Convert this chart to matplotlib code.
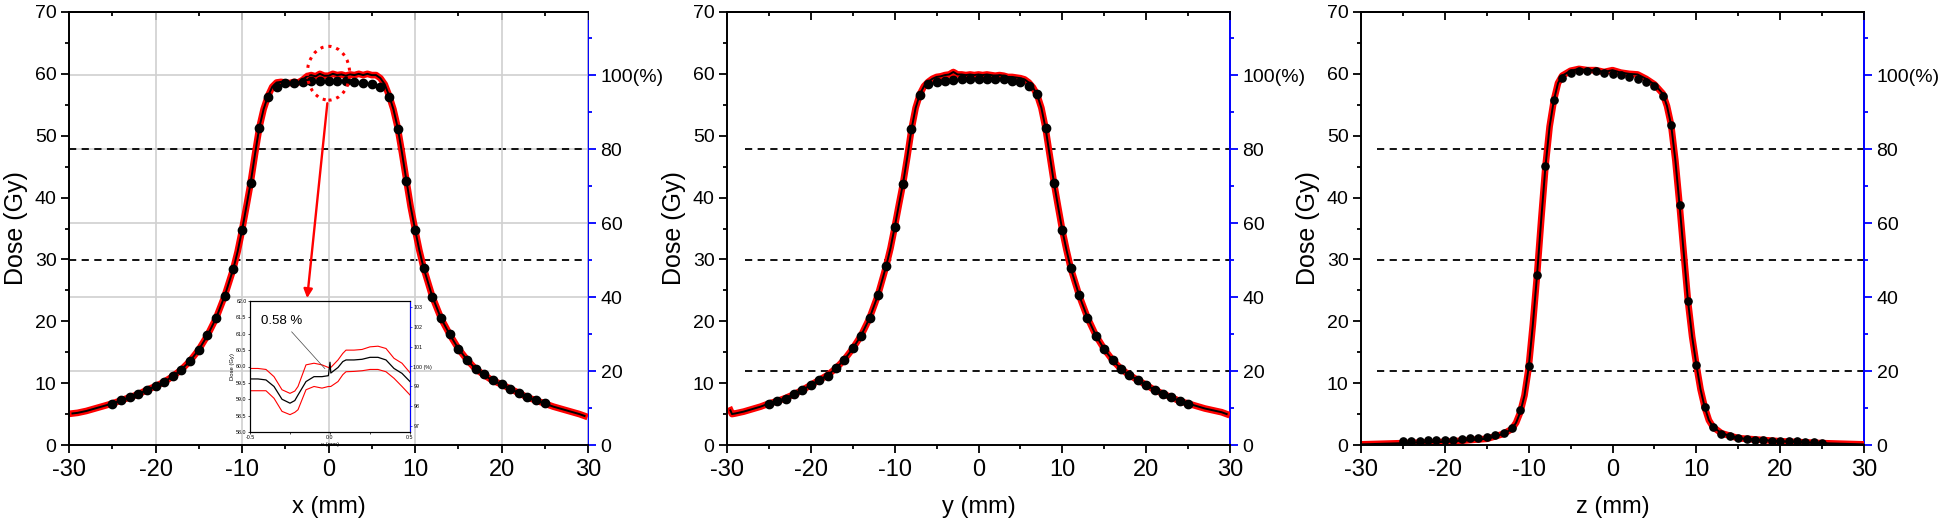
import numpy as np
import matplotlib
matplotlib.use('Agg')
import matplotlib.pyplot as plt
from matplotlib.patches import Ellipse
from matplotlib.ticker import MultipleLocator, FixedLocator

NARROW = ['Liberation Sans Narrow', 'Liberation Sans', 'DejaVu Sans']
plt.rcParams['font.family'] = ['Liberation Sans', 'DejaVu Sans']
plt.rcParams['axes.unicode_minus'] = False

# 100 % reference dose (Gy)
D100 = 59.8
ref_levels = [[80, 50], [80, 50, 20], [80, 50, 20]]
ref_start = [-30, -27.8, -28.1]

# measured points (black dots), 1 mm spacing
pos_pts = list(range(-25, 26))
x_pts = [6.7, 7.2, 7.7, 8.2, 8.9, 9.5, 10.2, 11.2, 12.2, 13.6, 15.4, 17.8, 20.6, 24.1, 28.5, 34.7,
         42.4, 51.3, 56.3, 57.9, 58.5, 58.6, 58.7, 58.8, 58.8, 58.8, 58.8, 58.8, 58.7, 58.6, 58.3,
         57.9, 56.3, 51.1, 42.6, 34.8, 28.6, 24.0, 20.5, 17.9, 15.6, 13.8, 12.3, 11.4, 10.5, 9.9,
         9.1, 8.4, 7.7, 7.2, 6.75]
y_pts = [6.7, 7.1, 7.5, 8.2, 8.9, 9.7, 10.5, 11.2, 12.4, 13.8, 15.7, 17.7, 20.5, 24.2, 29.0, 35.2,
         42.2, 51.1, 56.6, 58.3, 58.7, 58.8, 59.0, 59.1, 59.1, 59.1, 59.2, 59.2, 59.1, 58.8, 58.7,
         58.1, 56.7, 51.2, 42.4, 34.7, 28.6, 24.2, 20.6, 17.7, 15.5, 13.7, 12.3, 11.3, 10.5, 9.7,
         8.9, 8.3, 7.7, 7.1, 6.7]
z_pts = [0.6, 0.6, 0.7, 0.75, 0.8, 0.85, 0.85, 1.0, 1.1, 1.2, 1.3, 1.6, 2.0, 2.8, 5.6, 12.7,
         27.5, 45.1, 55.7, 59.4, 60.2, 60.5, 60.5, 60.4, 60.2, 60.0, 59.8, 59.5, 59.1, 58.7, 58.0,
         56.5, 51.7, 38.8, 23.3, 13.0, 6.1, 2.9, 1.85, 1.5, 1.15, 1.0, 0.85, 0.75, 0.7, 0.7,
         0.65, 0.6, 0.55, 0.5, 0.4]

# calculated profiles (lines)
x_pos = [-29.6, -29, -28, -27, -26, -25, -24, -23, -22, -21, -20, -19, -18, -17, -16, -15, -14, -13,
         -12, -11, -10.5, -10, -9.5, -9, -8.5, -8, -7.5, -7, -6.5, -6, -5.5, -5, -4.5, -4, -3.5, -3,
         -2.5, -2, -1.5, -1, -0.5, 0, 0.5, 1, 1.5, 2, 2.5, 3, 3.5, 4, 4.5, 5, 5.5, 6, 6.5, 7, 7.5,
         8, 8.5, 9, 9.5, 10, 10.5, 11, 12, 13, 14, 15, 16, 17, 18, 19, 20, 21, 22, 23, 24, 25, 26,
         27, 28, 29, 29.6]
x_dose = [5.1, 5.2, 5.5, 5.9, 6.3, 6.7, 7.2, 7.7, 8.2, 8.9, 9.5, 10.2, 11.1, 12.2, 13.6, 15.4, 17.7,
          20.5, 24.1, 28.5, 31.3, 34.7, 38.5, 42.4, 47.0, 51.3, 54.3, 56.4, 57.9, 58.6, 58.7, 58.6,
          58.5, 58.7, 58.6, 59.0, 59.6, 59.8, 59.6, 60.0, 59.7, 59.7, 60.0, 59.8, 59.9, 59.7, 59.9,
          59.8, 60.0, 59.8, 60.0, 59.8, 59.8, 59.3, 58.3, 56.5, 54.3, 51.3, 47.2, 42.8, 38.5, 34.9,
          31.5, 28.6, 24.0, 20.5, 17.9, 15.6, 13.8, 12.3, 11.3, 10.4, 9.8, 9.1, 8.4, 7.7, 7.2, 6.7,
          6.2, 5.8, 5.4, 5.0, 4.7]

y_pos = [-29.6, -29.4, -29, -28, -27, -26, -25, -24, -23, -22, -21, -20, -19, -18, -17, -16, -15, -14,
         -13, -12, -11, -10.5, -10, -9.5, -9, -8.5, -8, -7.5, -7, -6.5, -6, -5.5, -5, -4.5, -4, -3.5,
         -3, -2.5, -2, -1.5, -1, -0.5, 0, 0.5, 1, 1.5, 2, 2.5, 3, 3.5, 4, 4.5, 5, 5.5, 6, 6.5, 7,
         7.5, 8, 8.5, 9, 9.5, 10, 10.5, 11, 12, 13, 14, 15, 16, 17, 18, 19, 20, 21, 22, 23, 24, 25,
         26, 27, 28, 29, 29.6]
y_dose = [5.6, 5.0, 5.1, 5.4, 5.8, 6.2, 6.7, 7.1, 7.6, 8.2, 8.9, 9.7, 10.5, 11.3, 12.4, 13.8, 15.6,
          17.7, 20.5, 24.2, 29.0, 31.8, 35.2, 38.8, 42.3, 46.5, 51.0, 54.5, 56.7, 58.0, 58.7, 59.2,
          59.5, 59.6, 59.8, 59.9, 60.3, 59.9, 59.9, 59.8, 59.9, 59.8, 59.9, 59.8, 59.9, 59.8, 59.7,
          59.8, 59.7, 59.5, 59.5, 59.4, 59.3, 59.1, 58.6, 57.8, 56.6, 54.5, 51.2, 46.8, 42.4, 38.5,
          34.7, 31.5, 28.6, 24.2, 20.6, 17.7, 15.5, 13.7, 12.3, 11.3, 10.5, 9.7, 8.9, 8.3, 7.7, 7.1,
          6.7, 6.3, 5.9, 5.6, 5.3, 5.0]

z_pos = [-30, -25, -20, -15, -13, -12, -11.5, -11, -10.5, -10, -9.5, -9, -8.5, -8, -7.5, -7, -6.5,
         -6, -5, -4, -3, -2, -1, 0, 1, 2, 3, 4, 5, 6, 6.5, 7, 7.5, 8, 8.5, 9, 9.5, 10, 10.5, 11,
         11.5, 12, 13, 15, 20, 25, 30]
z_dose = [0.1, 0.3, 0.5, 1.0, 1.8, 2.6, 3.6, 5.3, 8.0, 12.5, 19.5, 27.5, 36.5, 45.0, 51.5, 55.7,
          58.5, 59.7, 60.5, 60.8, 60.6, 60.6, 60.3, 60.6, 60.2, 60.0, 59.9, 59.2, 58.3, 56.8, 54.8,
          51.7, 46.0, 38.8, 31.0, 23.3, 17.5, 13.0, 9.0, 6.1, 4.0, 2.9, 1.9, 1.1, 0.6, 0.3, 0.1]

# inset (zoom on central region of x profile)
ins_x = [-0.5, -0.45, -0.4, -0.35, -0.3, -0.25, -0.22, -0.2, -0.15, -0.1, -0.05, -0.01, 0.0, 0.005,
         0.05, 0.08, 0.1, 0.15, 0.2, 0.25, 0.3, 0.35, 0.4, 0.45, 0.5]
ins_mid = [59.62, 59.62, 59.59, 59.39, 59.0, 58.88, 58.96, 59.13, 59.54, 59.69, 59.69, 59.72, 60.13,
           59.8, 59.97, 60.15, 60.2, 60.2, 60.22, 60.28, 60.28, 60.2, 59.94, 59.79, 59.54]
ins_hi = [59.94, 59.94, 59.91, 59.69, 59.29, 59.18, 59.25, 59.39, 60.05, 60.1, 60.05, 59.97, 59.97,
          59.97, 60.2, 60.4, 60.5, 60.5, 60.52, 60.6, 60.62, 60.55, 60.25, 60.1, 59.81]
ins_lo = [59.26, 59.26, 59.26, 59.03, 58.63, 58.53, 58.6, 58.68, 59.29, 59.39, 59.34, 59.39, 59.39,
          59.39, 59.54, 59.75, 59.84, 59.85, 59.87, 59.91, 59.91, 59.84, 59.64, 59.39, 59.13]

panels = [
    ('x (mm)', x_pos, x_dose, x_pts),
    ('y (mm)', y_pos, y_dose, y_pts),
    ('z (mm)', z_pos, z_dose, z_pts),
]
lefts = [69, 727, 1361]
widths = [519, 503, 503]

W, H = 1946, 529
fig = plt.figure(figsize=(W / 100, H / 100), dpi=100)

for i, (xlab, pos, dose, pts) in enumerate(panels):
    ax = fig.add_axes([lefts[i] / W, 84 / H, widths[i] / W, 433 / H])
    ax2 = ax.twinx()
    ax.set_zorder(ax2.get_zorder() + 1)
    ax.patch.set_visible(False)

    ax.plot(pos, dose, color='red', lw=4.8, solid_joinstyle='round', zorder=2)
    ax.plot(pos, dose, color='black', lw=1.4, zorder=3)
    msize = 6 if i < 2 else 5.2
    ax.plot(pos_pts, pts, 'o', color='black', ms=msize, zorder=4)

    ax.set_xlim(-30, 30)
    ax.set_ylim(0, 70)
    ax.xaxis.set_major_locator(MultipleLocator(10))
    ax.xaxis.set_minor_locator(MultipleLocator(5))
    ax.yaxis.set_major_locator(MultipleLocator(10))
    ax.yaxis.set_minor_locator(MultipleLocator(5))
    ax.tick_params(which='both', direction='out', bottom=True, left=True, top=False, right=False,
                   width=1.3, colors='black')
    ax.tick_params(which='major', length=6)
    ax.tick_params(which='minor', length=3)
    ax.tick_params(axis='x', pad=4)
    ax.tick_params(axis='y', pad=3)
    for lab in ax.get_xticklabels():
        lab.set_family(NARROW)
        lab.set_fontsize(17)
    for lab in ax.get_yticklabels():
        lab.set_fontsize(14)
    ax.set_xlabel(xlab, fontsize=17, labelpad=11)
    ax.set_ylabel('Dose (Gy)', fontsize=18, labelpad=5)
    for s in ['left', 'bottom', 'top']:
        ax.spines[s].set_linewidth(1.4)
    ax.spines['right'].set_visible(False)

    # top mirrored ticks pointing inward
    sec = ax.secondary_xaxis('top')
    sec.xaxis.set_major_locator(MultipleLocator(10))
    sec.xaxis.set_minor_locator(MultipleLocator(5))
    sec.tick_params(which='both', direction='in', labeltop=False, width=1.3)
    sec.tick_params(which='major', length=6)
    sec.tick_params(which='minor', length=3)
    sec.spines['top'].set_linewidth(1.4)

    # right axis in percent
    ax2.set_ylim(0, 70 / D100 * 100)
    ax2.yaxis.set_major_locator(FixedLocator([0, 20, 40, 60, 80, 100]))
    ax2.yaxis.set_minor_locator(FixedLocator([10, 30, 50, 70, 90, 110]))
    ax2.set_yticklabels(['0', '20', '40', '60', '80', '100(%)'])
    ax2.tick_params(which='both', direction='out', color='blue', labelcolor='black', width=1.3,
                    pad=3)
    ax2.tick_params(which='major', length=6, labelsize=14)
    ax2.tick_params(which='minor', length=3)
    ax2.spines['right'].set_color('blue')
    ax2.spines['right'].set_linewidth(1.4)
    for s in ['left', 'bottom', 'top']:
        ax2.spines[s].set_visible(False)

    ax2.hlines(ref_levels[i], ref_start[i], 30, colors='black', linestyles=(0, (4, 3)), lw=1.3)

    if i == 0:
        ax.grid(axis='x', color='#d0d0d0', lw=1.2)
        ax2.grid(axis='y', color='#d0d0d0', lw=1.2)
        ax.add_patch(Ellipse((0, 60.1), 4.9, 8.7, fill=False, ec='red', ls=':', lw=2.2, zorder=5))
        ax.annotate('', xy=(-2.5, 23.3), xytext=(-0.1, 55.7),
                    arrowprops=dict(arrowstyle='-|>', color='red', lw=1.7, mutation_scale=13),
                    zorder=5)

# inset
axi = fig.add_axes([250 / W, 97 / H, 160 / W, 131 / H])
axi.set_zorder(10)
axi.patch.set_visible(False)
axi.plot(ins_x, ins_hi, color='red', lw=0.8)
axi.plot(ins_x, ins_lo, color='red', lw=0.8)
axi.plot(ins_x, ins_mid, color='black', lw=0.9)
axi.set_xlim(-0.5, 0.5)
axi.set_ylim(58.0, 62.0)
axi.xaxis.set_major_locator(MultipleLocator(0.5))
axi.xaxis.set_minor_locator(MultipleLocator(0.25))
axi.yaxis.set_major_locator(MultipleLocator(0.5))
axi.xaxis.set_major_formatter('{x:.1f}')
axi.yaxis.set_major_formatter('{x:.1f}')
axi.tick_params(which='both', direction='out', labelsize=3.8, length=1.5, width=0.5, pad=1)
axi.set_xlabel('x (mm)', fontsize=4.2, labelpad=1)
axi.set_ylabel('Dose (Gy)', fontsize=4.2, labelpad=1)
for s in axi.spines.values():
    s.set_linewidth(0.8)
axi.annotate('0.58 %', xy=(-0.02, 59.87), xytext=(-0.43, 61.3), fontsize=9.5, family=NARROW,
             arrowprops=dict(arrowstyle='-', color='#444444', lw=0.5))
axi2 = axi.twinx()
axi2.set_zorder(11)
axi2.set_ylim(100 + (58.0 - 60.0) / 0.605, 100 + (62.0 - 60.0) / 0.605)
axi2.yaxis.set_major_locator(FixedLocator([97, 98, 99, 100, 101, 102, 103]))
axi2.set_yticklabels(['97', '98', '99', '100 (%)', '101', '102', '103'])
axi2.tick_params(direction='out', color='blue', labelsize=3.8, length=1.5, width=0.5, pad=1)
axi2.spines['right'].set_color('blue')
axi2.spines['right'].set_linewidth(0.8)

fig.savefig('out.png', dpi=100)
